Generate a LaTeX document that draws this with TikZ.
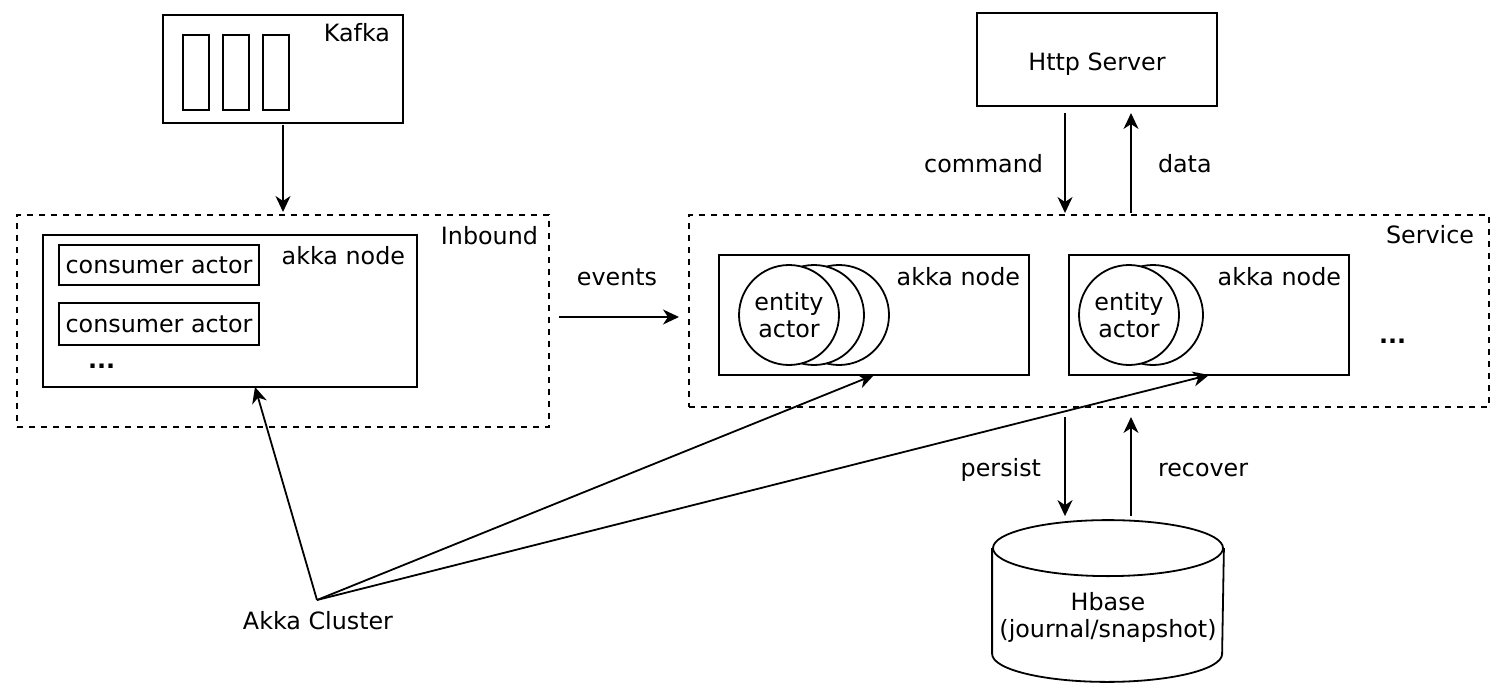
\documentclass[tikz,border=0pt]{standalone}
\usepackage{fontspec}
\setmainfont{DejaVu Sans}
\usetikzlibrary{arrows.meta}

\begin{document}
\begin{tikzpicture}[x=0.5pt, y=-0.5pt, line width=0.9pt,
        font=\fontsize{11.9}{13.5}\selectfont,
        box/.style={rectangle, draw, inner sep=0pt, outer sep=0pt},
        group/.style={box, dash pattern=on 3pt off 3pt},
        actor/.style={circle, draw, fill=white, minimum size=50pt, inner sep=0pt, align=center},
        txt/.style={inner sep=0pt, outer sep=0pt, align=center},
        arr/.style={-{Stealth[length=8pt, width=7.5pt, inset=2.5pt]}}]
        \useasboundingbox (0,0) rectangle (1508,696);

        % Kafka
        \node[box, minimum width=120pt, minimum height=54pt] (kafka) at (283,69) {};
        \foreach \i/\x in {1/196, 2/236, 3/276}
            \node[box, minimum width=13pt, minimum height=37.5pt] (part\i) at (\x,72.5) {};
        \node[txt, anchor=base east] (kafkalbl) at ([shift={(-13,26)}]kafka.north east) {Kafka};

        % Inbound
        \node[group, minimum width=266pt, minimum height=106pt] (inbound) at (283,321) {};
        \node[txt, anchor=base east] (inboundlbl) at ([shift={(-11,29)}]inbound.north east) {Inbound};
        \node[box, minimum width=187pt, minimum height=76pt] (akkain) at (230,311) {};
        \node[txt, anchor=base east] (akkainlbl) at ([shift={(-12,29)}]akkain.north east) {akka node};
        \node[box, minimum width=100pt, minimum height=20pt] (cons1) at (159,265) {consumer actor};
        \node[box, minimum width=100pt, minimum height=21pt] (cons2) at (159,324) {consumer actor};
        \node[txt, anchor=base west] (consmore) at (88,368) {\textbf{...}};

        % Service
        \node[group, minimum width=400pt, minimum height=96pt] (service) at (1089,311) {};
        \node[txt, anchor=base east] (servicelbl) at ([shift={(-15,28)}]service.north east) {Service};
        \node[box, minimum width=155pt, minimum height=60pt] (akkaa) at (874,315) {};
        \node[txt, anchor=base east] (akkaalbl) at ([shift={(-9,30)}]akkaa.north east) {akka node};
        \node[actor] (enta3) at (839,315) {};
        \node[actor] (enta2) at (814,315) {};
        \node[actor] (enta1) at (789,315) {entity\\actor};
        \node[box, minimum width=140pt, minimum height=60pt] (akkab) at (1209,315) {};
        \node[txt, anchor=base east] (akkablbl) at ([shift={(-8,30)}]akkab.north east) {akka node};
        \node[actor] (entb2) at (1153,315) {};
        \node[actor] (entb1) at (1129,315) {entity\\actor};
        \node[txt, anchor=base west] (akkamore) at (1379,343) {\textbf{...}};

        % Http Server
        \node[box, minimum width=120pt, minimum height=46.5pt, text height=11pt, text depth=0pt] (http) at (1097,59.5) {Http Server};

        % Hbase
        \node[minimum width=115pt, minimum height=80pt, inner sep=0pt] (hbase) at (1108,601) {};
        \draw ([yshift=-14pt]hbase.north west) -- ([yshift=14pt]hbase.south west)
            arc[start angle=180, end angle=360, x radius=57.5pt, y radius=14pt]
            -- ([yshift=-14pt]hbase.north east);
        \draw ([yshift=-14pt]hbase.north) ellipse[x radius=57.5pt, y radius=14pt];
        \node[txt] (hbaselbl) at (1108,617) {Hbase\\(journal/snapshot)};

        % Akka Cluster
        \coordinate (cluster) at (317,600);
        \node[txt, anchor=base] (clusterlbl) at (318,629) {Akka Cluster};

        % connectors
        \draw[arr, shorten <=1pt, shorten >=1.5pt] (kafka) -- (inbound);
        \draw[arr] ([shift={(10,-4)}]inbound.east) -- ([shift={(-10,6)}]service.west);
        \node[txt, anchor=base] (events) at (617,285) {events};
        \draw[arr] ([shift={(-32,7)}]http.south) -- ([shift={(-24,-2)}]service.north);
        \draw[arr] ([shift={(42,-2)}]service.north) -- ([shift={(34,7)}]http.south);
        \node[txt, anchor=base east] (command) at (1043,172) {command};
        \node[txt, anchor=base west] (data) at (1158,172) {data};
        \draw[arr] ([shift={(-24,10)}]service.south) -- ([shift={(-43,-4)}]hbase.north);
        \draw[arr] ([shift={(23,-4)}]hbase.north) -- ([shift={(42,10)}]service.south);
        \node[txt, anchor=base east] (persist) at (1041,476) {persist};
        \node[txt, anchor=base west] (recover) at (1158,476) {recover};
        \draw[arr] (cluster) -- ([shift={(25,0)}]akkain.south);
        \draw[arr] (cluster) -- (akkaa.south);
        \draw[arr] (cluster) -- (akkab.south);
    \end{tikzpicture}
\end{document}
